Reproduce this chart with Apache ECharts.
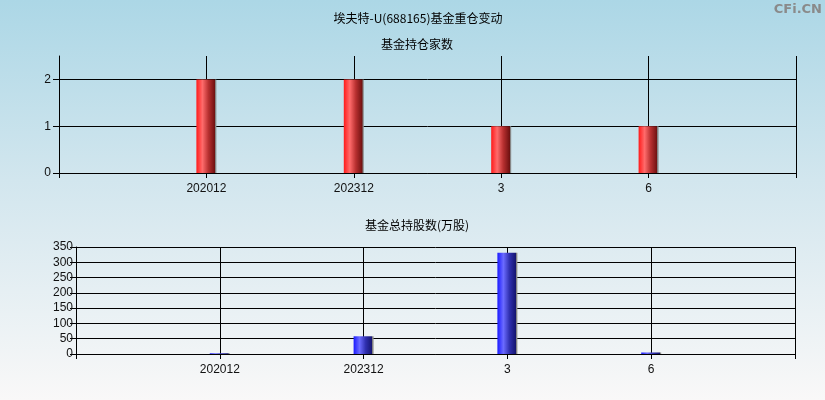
<!DOCTYPE html>
<html><head><meta charset="utf-8">
<script src="https://cdn.jsdelivr.net/npm/echarts@6/dist/echarts.min.js"></script>
<style>
html,body{margin:0;padding:0;}
#c{width:825px;height:400px;background:linear-gradient(to bottom,#acd7e6 0%,#d2e6ee 45%,#f9f8f8 100%);}
</style></head><body><div id="c"></div>
<script>
const categories = ['202012', '202312', '3', '6'];
const fundCount = [2, 2, 1, 1];
const fundShares = [2.5, 58, 331, 5];
const mainTitle = '埃夫特-U(688165)基金重仓变动';
const topTitle = '基金持仓家数';
const bottomTitle = '基金总持股数(万股)';

const axisCats = [''].concat(categories, ['']);
const pad = arr => [null].concat(arr, [null]);
const font = '"Noto Sans CJK SC", "Liberation Sans", sans-serif';
const numFont = '"Liberation Sans", Arial, sans-serif';
const redGrad = new echarts.graphic.LinearGradient(0,0,1,0,[
  {offset:0,color:'#ff1a1a'},{offset:0.3,color:'#ff6b6b'},{offset:0.6,color:'#b83030'},{offset:0.93,color:'#6e1010'},{offset:0.94,color:'#808080'},{offset:1,color:'#909090'}]);
const blueGrad = new echarts.graphic.LinearGradient(0,0,1,0,[
  {offset:0,color:'#1a1aff'},{offset:0.3,color:'#6b6bff'},{offset:0.6,color:'#3030b0'},{offset:0.93,color:'#14146e'},{offset:0.94,color:'#808080'},{offset:1,color:'#909090'}]);

function xAx(gi){
  return {type:'category', gridIndex:gi, data:axisCats, boundaryGap:false,
    axisLine:{lineStyle:{color:'#000',width:1}},
    axisTick:{show:true,length:5,alignWithLabel:true,lineStyle:{color:'#000'}},
    axisLabel:{color:'#111',fontSize:12,margin:10,fontFamily:numFont,interval:0},
    splitLine:{show:true,lineStyle:{color:'#000',width:1}}};
}
const chart = echarts.init(document.getElementById('c'));
chart.setOption({
  backgroundColor:'transparent',
  animation:false,
  title:[
    {text:mainTitle,left:413,top:7,textAlign:'center',textStyle:{fontSize:12,fontWeight:'normal',color:'#000',fontFamily:font}},
    {text:topTitle,left:412,top:33,textAlign:'center',textStyle:{fontSize:12,fontWeight:'normal',color:'#000',fontFamily:font}},
    {text:bottomTitle,left:412,top:214,textAlign:'center',textStyle:{fontSize:12,fontWeight:'normal',color:'#000',fontFamily:font}},
    {text:'CFi.CN',right:3,top:3,padding:0,textStyle:{fontSize:13,fontWeight:'bold',color:'#8a8a8a',fontFamily:'"DejaVu Sans", sans-serif'}}
  ],
  grid:[
    {left:59,right:29,top:56,height:117},
    {left:76,right:30,top:247,height:107}
  ],
  xAxis:[xAx(0),xAx(1)],
  yAxis:[
    {type:'value',gridIndex:0,min:0,max:2.5,interval:1,
      axisLine:{show:true,lineStyle:{color:'#000'}},
      axisTick:{show:true,length:6,lineStyle:{color:'#000'}},
      axisLabel:{color:'#111',fontSize:12,margin:8,fontFamily:numFont,showMaxLabel:false,padding:[2,0,0,0],
        formatter:v=>Number.isInteger(v)?String(v):''},
      splitLine:{show:true,showMaxLine:false,lineStyle:{color:'#000'}}},
    {type:'value',gridIndex:1,min:0,max:350,interval:50,
      axisLine:{show:true,lineStyle:{color:'#000'}},
      axisTick:{show:true,length:6,lineStyle:{color:'#000'}},
      axisLabel:{color:'#111',fontSize:12,margin:3,fontFamily:numFont,padding:[2,0,0,0]},
      splitLine:{show:true,lineStyle:{color:'#000'}}}
  ],
  series:[
    {type:'bar',xAxisIndex:0,yAxisIndex:0,data:pad(fundCount),barWidth:20,itemStyle:{color:redGrad}},
    {type:'bar',xAxisIndex:1,yAxisIndex:1,data:pad(fundShares),barWidth:20,itemStyle:{color:blueGrad}}
  ]
});
</script></body></html>
